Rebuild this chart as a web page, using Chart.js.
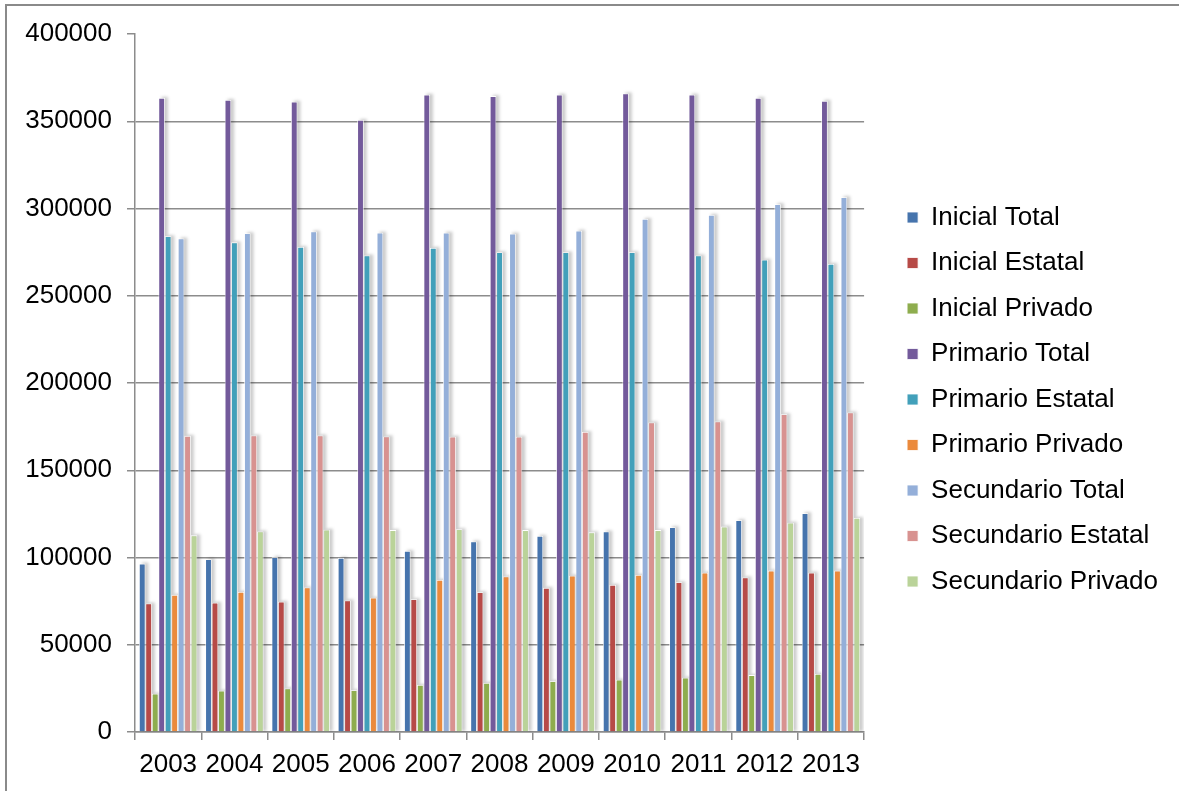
<!DOCTYPE html>
<html>
<head>
<meta charset="utf-8">
<script src="https://cdn.jsdelivr.net/npm/chart.js@4.4.1/dist/chart.umd.min.js"></script>
<style>
  html, body { margin: 0; padding: 0; background: #fff; }
  #wrap { position: relative; width: 1179px; height: 791px; }
</style>
</head>
<body>
<div id="wrap"><canvas id="chart"></canvas></div>
<script>
// Enrolment by level and sector, 2003-2013
const years = ["2003", "2004", "2005", "2006", "2007", "2008", "2009", "2010", "2011", "2012", "2013"];

const inicialTotal      = [96500, 99000, 100200, 99800, 103700, 109200, 112400, 114900, 117400, 121400, 125400];
const inicialEstatal    = [73600, 74100, 74600, 75400, 76100, 80100, 82600, 84300, 85800, 88600, 91300];
const inicialPrivado    = [21900, 23600, 24900, 23900, 26900, 28100, 29100, 29900, 31100, 32600, 33300];
const primarioTotal     = [363400, 362200, 361200, 350700, 365200, 364400, 365200, 365900, 365200, 363400, 361700];
const primarioEstatal   = [284100, 280600, 277900, 273100, 277400, 274900, 274900, 274900, 273100, 270600, 268200];
const primarioPrivado   = [78600, 80300, 82800, 76900, 87100, 89100, 89600, 90000, 91300, 92500, 92500];
const secundarioTotal   = [282800, 285800, 286800, 286100, 286100, 285600, 287300, 294000, 296300, 302500, 306500];
const secundarioEstatal = [169700, 169900, 169900, 169400, 169200, 169200, 171900, 177400, 177900, 182100, 183100];
const secundarioPrivado = [112700, 114900, 115900, 115700, 116200, 115700, 114400, 115700, 117700, 119900, 122600];

const seriesNames = [
    "Inicial Total", "Inicial Estatal", "Inicial Privado",
    "Primario Total", "Primario Estatal", "Primario Privado",
    "Secundario Total", "Secundario Estatal", "Secundario Privado",
];
const seriesColors = [
    "#4674AD", "#B74A47", "#8EAD4E",
    "#735A9B", "#42A0BA", "#EB8A3C",
    "#94AFD9", "#D89290", "#BAD399",
];
const seriesValues = [
    inicialTotal, inicialEstatal, inicialPrivado,
    primarioTotal, primarioEstatal, primarioPrivado,
    secundarioTotal, secundarioEstatal, secundarioPrivado,
];

const yMax = 400000;
const yStep = 50000;

const FONT = "'Liberation Sans', Arial, sans-serif";
const gridColor = "#8c8c8c";

// blurred grey shadow painted behind every bar before the bars themselves
const barShadow = {
    id: "barShadow",
    beforeDatasetsDraw(chart) {
        const ctx = chart.ctx;
        const area = chart.chartArea;
        ctx.save();
        ctx.beginPath();
        ctx.rect(area.left, area.top, area.right - area.left, area.bottom - area.top);
        ctx.clip();
        ctx.filter = "blur(1.5px)";
        ctx.fillStyle = "rgba(0, 0, 0, 0.2)";
        chart.data.datasets.forEach((ds, i) => {
            chart.getDatasetMeta(i).data.forEach((bar) => {
                const { x, y, base, width } = bar.getProps(["x", "y", "base", "width"], true);
                ctx.fillRect(x - width / 2 + 3, y - 1, width, base - y + 1);
            });
        });
        ctx.restore();
    },
};

// thin frame along the top and left edges
const outerFrame = {
    id: "outerFrame",
    afterDraw(chart) {
        const ctx = chart.ctx;
        ctx.save();
        ctx.strokeStyle = "#8a8a8a";
        ctx.lineWidth = 2;
        ctx.beginPath();
        ctx.moveTo(6, chart.height);
        ctx.lineTo(6, 5);
        ctx.lineTo(chart.width, 5);
        ctx.stroke();
        ctx.restore();
    },
};

const datasets = seriesNames.map((name, i) => ({
    label: name,
    data: seriesValues[i],
    backgroundColor: seriesColors[i],
    borderColor: "#ffffff",
    borderWidth: 0.8,
    borderSkipped: "bottom",
    barPercentage: 1.0,
    categoryPercentage: 0.88,
}));

// invisible spacer axis (top / right) used only to reserve room
const spacer = (axis, position, size) => ({
    type: "linear",
    axis,
    position,
    display: true,
    grid: { display: false, drawOnChartArea: false },
    border: { display: false },
    ticks: { display: false },
    afterFit: (scale) => {
        if (axis === "x") scale.height = size;
        else scale.width = size;
    },
});

new Chart(document.getElementById("chart"), {
    type: "bar",
    data: { labels: years, datasets },
    options: {
        responsive: true,
        maintainAspectRatio: false,
        animation: false,
        layout: {
            padding: { top: 8, bottom: 0, left: 0, right: 11 },
        },
        scales: {
            x: {
                grid: {
                    display: true,
                    drawOnChartArea: false,
                    drawTicks: true,
                    tickLength: 8,
                    offset: true,
                    color: gridColor,
                    lineWidth: 1.5,
                },
                border: { display: true, color: gridColor, width: 1.5 },
                ticks: {
                    color: "#000",
                    padding: 9.5,
                    maxRotation: 0,
                    autoSkip: false,
                    font: { family: FONT, size: 26 },
                },
                afterFit: (scale) => { scale.height = 59; },
            },
            y: {
                min: 0,
                max: yMax,
                grid: {
                    // no gridline along the top edge, only its tick mark
                    color: (c) => (c.tick && c.tick.value === yMax ? "rgba(0,0,0,0)" : gridColor),
                    tickColor: gridColor,
                    lineWidth: 1.5,
                    tickLength: 8,
                },
                border: { display: true, color: gridColor, width: 1.5 },
                ticks: {
                    stepSize: yStep,
                    color: "#000",
                    padding: 15,
                    font: { family: FONT, size: 26 },
                    callback: (value) => String(value),
                },
                afterFit: (scale) => { scale.width = 135; },
            },
            xTopPad: spacer("x", "top", 26),
            yRightPad: spacer("y", "right", 23.5),
        },
        plugins: {
            legend: {
                position: "right",
                align: "center",
                maxWidth: 320,
                labels: {
                    color: "#000",
                    boxWidth: 11,
                    boxHeight: 11,
                    padding: 19.5,
                    font: { family: FONT, size: 26 },
                },
            },
            tooltip: { enabled: false },
        },
    },
    plugins: [barShadow, outerFrame],
});
</script>
</body>
</html>
